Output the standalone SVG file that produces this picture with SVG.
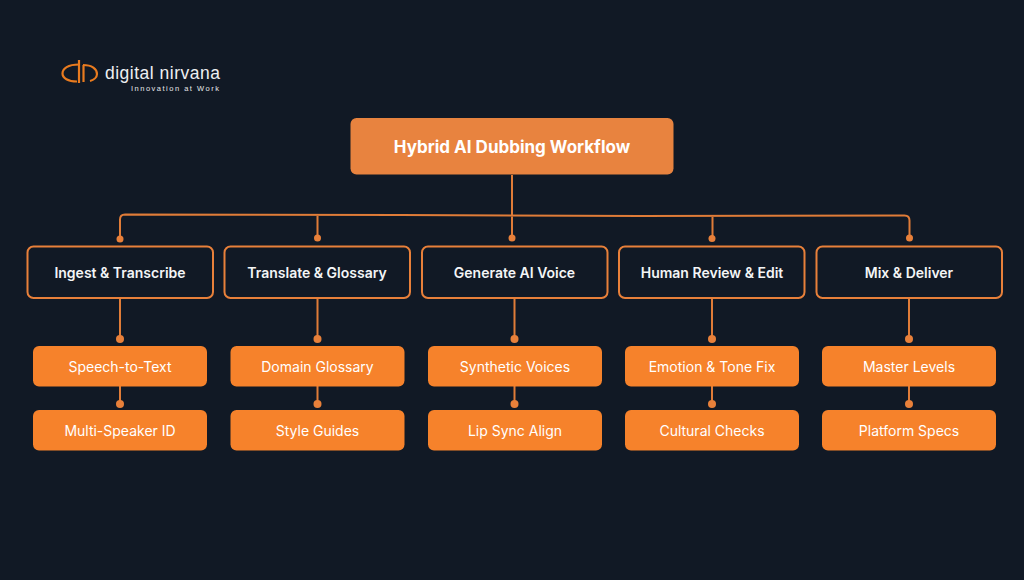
<svg xmlns="http://www.w3.org/2000/svg" width="1024" height="580" viewBox="0 0 1024 580">
<style>
.t{font-family:Inter,"Liberation Sans",sans-serif;text-anchor:middle}
.h{fill:#f4f5f6;font-size:14px;font-weight:600}
.s{fill:#fff;font-size:14px;font-weight:400}
.top{fill:#fff;font-size:17px;font-weight:700}
.b{fill:#111925;stroke:#e8803a;stroke-width:2}
.o{fill:#f6822b}
.l{fill:none;stroke:#e07c38;stroke-width:2}
.d{fill:#e8803a}
.g{fill:none;stroke:#e97b1f;stroke-width:2.200}
</style>
<rect width="1024" height="580" fill="#111925"/>
<g id="logo">
<path class="g" d="M79 64.500C68 64.500 62.500 68.500 62.500 73.500C62.500 78 68 81.500 77 81.500"/>
<path class="g" d="M83 65C92 65 97 69 97 74C97 77 94 80 90 81" stroke-width="1.800"/>
<path class="g" d="M79 60L79 83" stroke-width="1.400"/>
<path class="g" d="M83.500 65L83.500 82" stroke-width="1.400"/>
<text x="105" y="79" style="font-family:'Liberation Sans',sans-serif;font-size:17.500px;fill:#eef0f2;letter-spacing:.5px">digital nirvana</text>
<text x="131" y="91" style="font-family:'Liberation Sans',sans-serif;font-size:7.500px;fill:#e6e8ea;letter-spacing:1.500px">Innovation at Work</text>
</g>
<g id="connectors">
<path class="l" d="M512 175V238M125 214.500L400 215L640 216L904.500 215.500Q909.500 215.500 909.500 220.500V238M125 214.500Q120 214.500 120 219.500V239M317.500 215V238M712.500 216V238"/>
<path class="l" d="M120 298V339M120 386V404M317.500 298V339M317.500 386V404M514.500 298V339M514.500 386V404M712 298V339M712 386V404M909 298V339M909 386V404"/>
<g class="d">
<circle cx="120" cy="239" r="3.500"/><circle cx="317.500" cy="238" r="3.500"/><circle cx="512" cy="238" r="3.500"/><circle cx="712" cy="238.500" r="3.500"/><circle cx="909.500" cy="238" r="3.500"/>
<circle cx="120" cy="339" r="4"/><circle cx="317.500" cy="339" r="4"/><circle cx="514.500" cy="339" r="4"/><circle cx="712" cy="339" r="4"/><circle cx="909" cy="339" r="4"/>
<circle cx="120" cy="404" r="4"/><circle cx="317.500" cy="404" r="4"/><circle cx="514.500" cy="404" r="4"/><circle cx="712" cy="404" r="4"/><circle cx="909" cy="404" r="4"/>
</g>
</g>
<g id="title"><rect x="350.500" y="118" width="323" height="56.500" rx="6" fill="#e8833f"/><text class="t top" x="512" y="152.500">Hybrid AI Dubbing Workflow</text></g>
<g id="n1"><rect class="b" x="27.500" y="246.500" width="185.500" height="51.500" rx="6"/><text class="t h" x="120" y="277.500">Ingest &amp; Transcribe</text></g>
<g id="n2"><rect class="b" x="224.500" y="246.500" width="185.500" height="51.500" rx="6"/><text class="t h" x="317" y="277.500">Translate &amp; Glossary</text></g>
<g id="n3"><rect class="b" x="422" y="246.500" width="185.500" height="51.500" rx="6"/><text class="t h" x="514.500" y="277.500">Generate AI Voice</text></g>
<g id="n4"><rect class="b" x="619" y="246.500" width="185.500" height="51.500" rx="6"/><text class="t h" x="712" y="277.500">Human Review &amp; Edit</text></g>
<g id="n5"><rect class="b" x="816.500" y="246.500" width="185.500" height="51.500" rx="6"/><text class="t h" x="909" y="277.500">Mix &amp; Deliver</text></g>
<g id="s1a"><rect class="o" x="33" y="346" width="174" height="40.500" rx="6"/><text class="t s" x="120" y="371.500">Speech-to-Text</text></g>
<g id="s1b"><rect class="o" x="33" y="410" width="174" height="40.500" rx="6"/><text class="t s" x="120" y="435.500">Multi-Speaker ID</text></g>
<g id="s2a"><rect class="o" x="230.500" y="346" width="174" height="40.500" rx="6"/><text class="t s" x="317.500" y="371.500">Domain Glossary</text></g>
<g id="s2b"><rect class="o" x="230.500" y="410" width="174" height="40.500" rx="6"/><text class="t s" x="317.500" y="435.500">Style Guides</text></g>
<g id="s3a"><rect class="o" x="428" y="346" width="174" height="40.500" rx="6"/><text class="t s" x="515" y="371.500">Synthetic Voices</text></g>
<g id="s3b"><rect class="o" x="428" y="410" width="174" height="40.500" rx="6"/><text class="t s" x="515" y="435.500">Lip Sync Align</text></g>
<g id="s4a"><rect class="o" x="625" y="346" width="174" height="40.500" rx="6"/><text class="t s" x="712" y="371.500">Emotion &amp; Tone Fix</text></g>
<g id="s4b"><rect class="o" x="625" y="410" width="174" height="40.500" rx="6"/><text class="t s" x="712" y="435.500">Cultural Checks</text></g>
<g id="s5a"><rect class="o" x="822" y="346" width="174" height="40.500" rx="6"/><text class="t s" x="909" y="371.500">Master Levels</text></g>
<g id="s5b"><rect class="o" x="822" y="410" width="174" height="40.500" rx="6"/><text class="t s" x="909" y="435.500">Platform Specs</text></g>
</svg>
